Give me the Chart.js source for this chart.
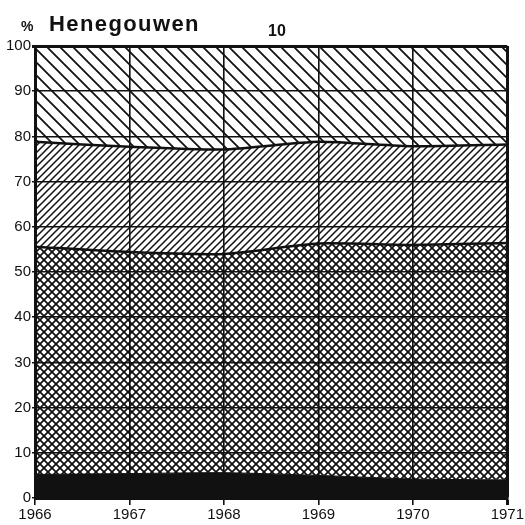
<!DOCTYPE html>
<html>
<head>
<meta charset="utf-8">
<script src="https://cdn.jsdelivr.net/npm/chart.js@4.4.1/dist/chart.umd.min.js"></script>
<style>
  html, body { margin: 0; padding: 0; background: #fff; }
  #wrap { position: relative; width: 525px; height: 525px; }
  canvas { position: absolute; left: 0; top: 0; }
  .t { position: absolute; font-family: "Liberation Sans", Arial, sans-serif; font-weight: bold; color: #111; white-space: nowrap; line-height: 1; }
</style>
</head>
<body>
<div id="wrap">
  <canvas id="c" width="525" height="525"></canvas>
  <div class="t" style="left:21px; top:19px; font-size:14px;">%</div>
  <div class="t" style="left:49px; top:13px; font-size:22px; letter-spacing:1.4px;">Henegouwen</div>
  <div class="t" style="left:268px; top:23px; font-size:16px;">10</div>
</div>
<script>
// Data (percentage shares per layer, bottom to top)
const years = ['1966', '1967', '1968', '1969', '1970', '1971'];
const layerSolid = [5.2, 5.4, 5.6, 5.0, 4.2, 4.0];
const layerCross = [50.4, 49.0, 48.4, 51.3, 51.8, 52.4];
const layerForward = [23.2, 23.3, 23.1, 22.5, 21.8, 21.8];
const layerBack = [21.2, 22.3, 22.9, 21.2, 22.2, 21.8];
const yTicks = [0, 10, 20, 30, 40, 50, 60, 70, 80, 90, 100];

function makePattern(p, lw, kind) {
  const cv = document.createElement('canvas');
  cv.width = p; cv.height = p;
  const g = cv.getContext('2d');
  g.fillStyle = '#fff';
  g.fillRect(0, 0, p, p);
  g.strokeStyle = '#111';
  g.lineWidth = lw;
  g.lineCap = 'square';
  const fwd = () => {
    g.beginPath();
    g.moveTo(0, p); g.lineTo(p, 0);
    g.moveTo(-1, 1); g.lineTo(1, -1);
    g.moveTo(p - 1, p + 1); g.lineTo(p + 1, p - 1);
    g.stroke();
  };
  const back = () => {
    g.beginPath();
    g.moveTo(0, 0); g.lineTo(p, p);
    g.moveTo(p - 1, -1); g.lineTo(p + 1, 1);
    g.moveTo(-1, p - 1); g.lineTo(1, p + 1);
    g.stroke();
  };
  if (kind === 'fwd' || kind === 'cross') fwd();
  if (kind === 'back' || kind === 'cross') back();
  return g.createPattern(cv, 'repeat');
}

const patCross = makePattern(8, 1.7, 'cross');
const patFwd = makePattern(7, 1.5, 'fwd');
const patBack = makePattern(13, 1.8, 'back');

const font = { family: '"Liberation Sans", Arial, sans-serif', size: 15 };

new Chart(document.getElementById('c'), {
  type: 'line',
  data: {
    labels: years,
    datasets: [
      { data: layerSolid, backgroundColor: '#111', borderColor: '#111', borderWidth: 1, fill: 'origin' },
      { data: layerCross, backgroundColor: patCross, borderColor: '#111', borderWidth: 2.5, fill: '-1' },
      { data: layerForward, backgroundColor: patFwd, borderColor: '#111', borderWidth: 2.5, fill: '-1' },
      { data: layerBack, backgroundColor: patBack, borderColor: '#111', borderWidth: 2, fill: '-1' }
    ]
  },
  options: {
    responsive: false,
    animation: false,
    events: [],
    elements: { point: { radius: 0 }, line: { tension: 0.2 } },
    layout: { padding: { top: 46, right: 17, left: 0, bottom: 0 } },
    plugins: { legend: { display: false }, tooltip: { enabled: false }, title: { display: false } },
    scales: {
      x: {
        offset: false,
        grid: {
          z: 1,
          color: '#111',
          lineWidth: (c) => (c.index === years.length - 1 ? 3 : 1.6),
          tickLength: 7,
          drawTicks: true
        },
        border: { display: true, color: '#111', width: 3, z: 2 },
        ticks: { color: '#111', font: font, padding: 1, maxRotation: 0, autoSkip: false },
        afterFit: (s) => { s.height = 27; }
      },
      y: {
        stacked: true,
        min: 0,
        max: 100,
        afterBuildTicks: (s) => { s.ticks = yTicks.map(v => ({ value: v })); },
        grid: {
          z: 1,
          color: '#111',
          lineWidth: (c) => (c.tick && c.tick.value === 100 ? 3 : 1.6),
          tickLength: 3,
          drawTicks: true
        },
        border: { display: true, color: '#111', width: 3, z: 2 },
        ticks: { color: '#111', font: font, padding: 1 },
        afterFit: (s) => { s.width = 35; }
      }
    }
  }
});
</script>
</body>
</html>
